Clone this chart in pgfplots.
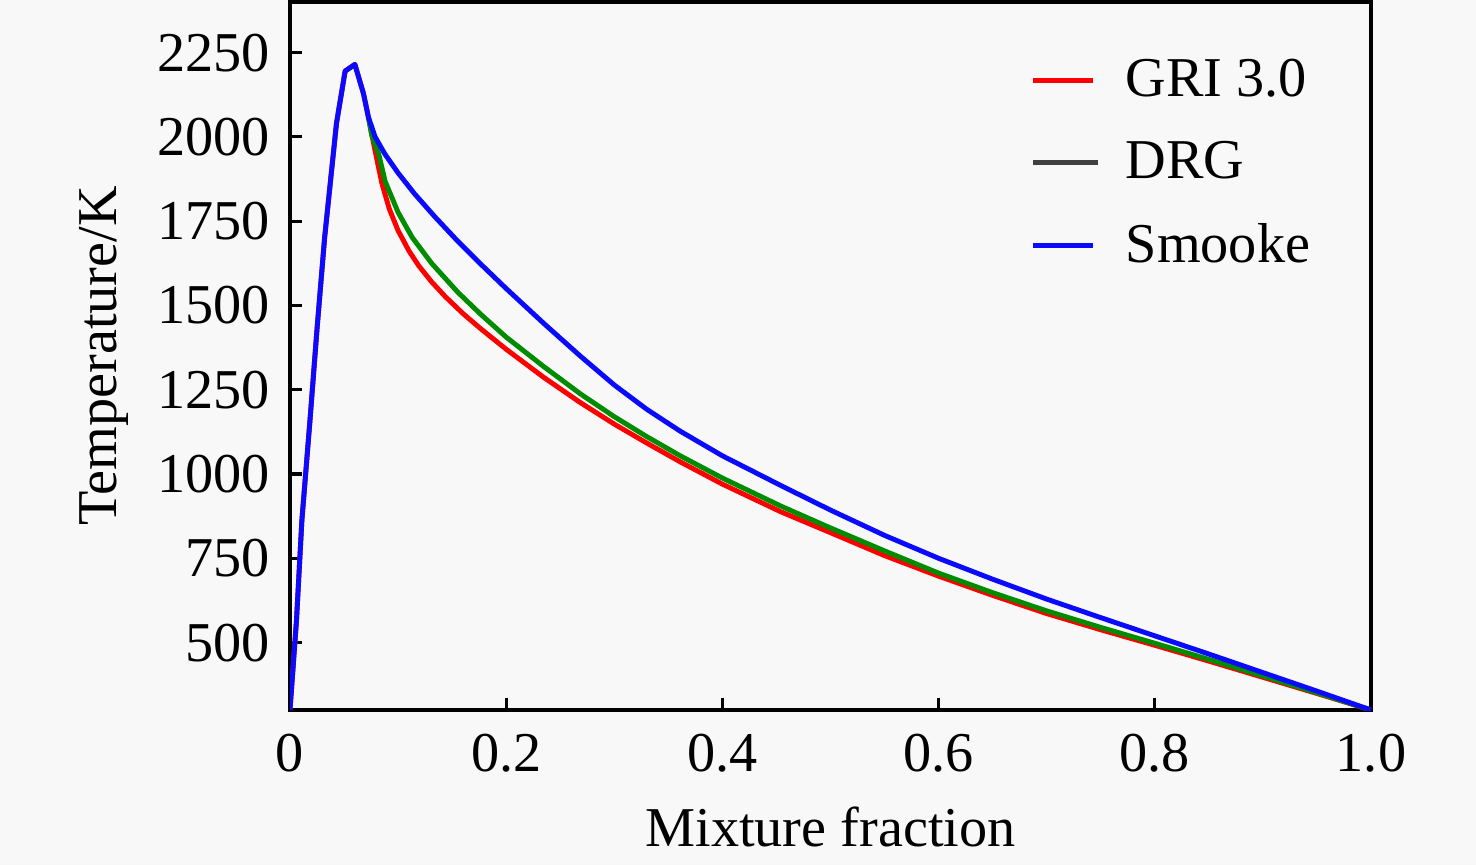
\documentclass[border=0pt]{standalone}
\usepackage{pgfplots}
\pgfplotsset{compat=1.18}
\usepackage{fontspec}
\setmainfont{Liberation Serif}
\definecolor{bg}{RGB}{248,248,248}
\definecolor{cred}{RGB}{255,0,0}
\definecolor{cgreen}{RGB}{0,140,0}
\definecolor{cblue}{RGB}{10,10,255}
\newcommand{\fs}{\fontsize{16}{19}\selectfont}
\begin{document}
\begin{tikzpicture}
\useasboundingbox (-2.90cm,-1.55cm) rectangle (11.86cm,7.10cm);
\fill[bg] (-2.90cm,-1.55cm) rectangle (11.86cm,7.10cm);
\begin{axis}[
  scale only axis,
  width=10.81cm, height=7.08cm,
  xmin=0, xmax=1, ymin=300, ymax=2400,
  axis line style={line width=0.9pt},
  xtick={0,0.2,0.4,0.6,0.8,1.0},
  xticklabels={0,0.2,0.4,0.6,0.8,1.0},
  ytick={500,750,1000,1250,1500,1750,2000,2250},
  yticklabels={500,750,1000,1250,1500,1750,2000,2250},
  tick align=inside,
  xtick pos=bottom, ytick pos=left,
  major tick length=0.12cm,
  tick style={line width=0.9pt, black},
  /pgf/number format/assume math mode=true,
  tick label style={font=\fs},
  xticklabel style={yshift=-0.12cm},
  yticklabel style={xshift=-0.08cm},
  label style={font=\fs},
  xlabel={Mixture fraction},
  ylabel={Temperature/K},
  xlabel style={yshift=-0.1cm},
  ylabel style={yshift=0.05cm},
  legend style={draw=none, fill=none, font=\fs, at={(0.675,0.94)}, anchor=north west, row sep=0.255cm,
    nodes={inner xsep=0.25cm}},
  legend cell align=left,
  every axis plot/.append style={line width=1.4pt, line join=round},
]
\addplot[cred] coordinates {
(0,300) (0.006,566) (0.011,863) (0.0185,1160) (0.025,1430) (0.032,1700) (0.0417,2000) (0.043,2040) (0.051,2195) (0.060,2215) (0.068,2128) (0.0725,2059)
(0.078,1970) (0.085,1862) (0.092,1785) (0.1,1722) (0.11,1662) (0.119,1618) (0.131,1570) (0.144,1525) (0.16,1476) (0.176,1432) (0.2,1370) (0.235,1286) (0.2685,1212) (0.3,1148) (0.33,1092) (0.361,1036) (0.4,970) (0.454,888) (0.5,826) (0.55,758) (0.6,697) (0.65,640) (0.7,586) (0.75,538) (0.8,492) (0.85,445) (0.9,397) (0.95,349) (1.0,300)
};
\addlegendentry{GRI 3.0}
\addplot[cgreen, legend image code/.code={\draw[darkgray, line width=1.4pt] (0cm,0cm) -- (0.65cm,0cm);}] coordinates {
(0.0725,2059) (0.0756,2005) (0.082,1950) (0.088,1868) (0.1,1776) (0.113,1702) (0.131,1625) (0.155,1540) (0.176,1475) (0.2,1406) (0.235,1318) (0.2685,1238) (0.3,1170) (0.33,1111) (0.361,1054) (0.4,988) (0.454,905) (0.5,840) (0.55,772) (0.6,706) (0.65,648) (0.7,594) (0.75,545) (0.8,498) (0.85,450) (0.9,401) (0.95,351) (1.0,300)
};
\addlegendentry{DRG}
\addplot[cblue] coordinates {
(0,300) (0.006,566) (0.011,863) (0.0185,1160) (0.025,1430) (0.032,1700) (0.0417,2000) (0.043,2040) (0.051,2195) (0.060,2215) (0.068,2128) (0.0725,2059)
(0.0787,2000) (0.088,1948) (0.1,1893) (0.115,1832) (0.134,1763) (0.153,1698) (0.176,1624) (0.2,1550) (0.235,1446) (0.2685,1350) (0.3,1264) (0.33,1192) (0.361,1127) (0.4,1054) (0.454,966) (0.5,893) (0.55,818) (0.6,750) (0.65,688) (0.7,629) (0.75,574) (0.8,520) (0.85,466) (0.9,411) (0.95,356) (1.0,300)
};
\addlegendentry{Smooke}
\end{axis}
\end{tikzpicture}
\end{document}
